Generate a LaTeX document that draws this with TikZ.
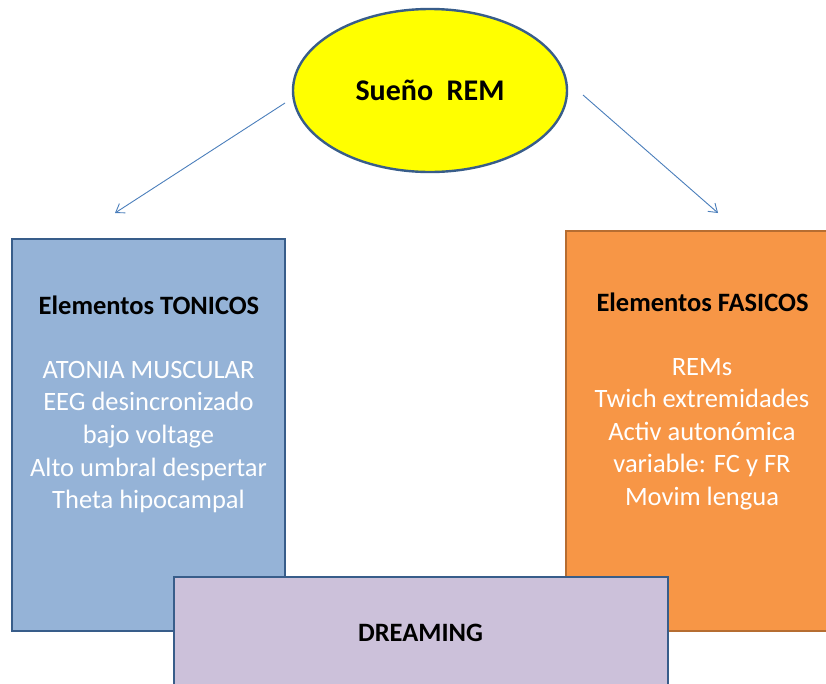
\documentclass[tikz,border=0pt]{standalone}
\usepackage{fontspec}
\setmainfont{Carlito}
\usetikzlibrary{arrows.meta,shapes.geometric}
\definecolor{yel}{HTML}{FFFF00}
\definecolor{bluefill}{HTML}{95B3D7}
\definecolor{blueline}{HTML}{385D8A}
\definecolor{orfill}{HTML}{F79646}
\definecolor{orline}{HTML}{B66D31}
\definecolor{purfill}{HTML}{CCC1DA}
\definecolor{arrowcol}{HTML}{4A7EBB}
\tikzset{
  boxbase/.style={line width=2.4pt},
  titletext/.style={font=\fontsize{26.5}{30}\selectfont\bfseries, text=black, inner sep=0pt},
  bodytext/.style={font=\fontsize{26.5}{32.6}\selectfont, text=white, align=center, inner sep=0pt},
  conn/.style={draw=arrowcol, line width=0.9pt, -{Straight Barb[length=8pt,width=11pt,line width=0.9pt]}}
}
\begin{document}
\begin{tikzpicture}[x=1pt,y=-1pt]
\fill[white] (0,0) rectangle (826,683);
\useasboundingbox (0,0) rectangle (826,683);
\clip (0,0) rectangle (826,683);
% ellipse
\node[ellipse, draw=blueline, fill=yel, line width=2.4pt, minimum width=274pt, minimum height=163pt, inner sep=0pt,
  font=\fontsize{30}{34}\selectfont\bfseries] (rem) at (430,90.5) {Sueño\ \ REM};
% boxes
\draw[boxbase, draw=blueline, fill=bluefill] (12,239) rectangle (285,631);
\draw[boxbase, draw=orline, fill=orfill] (566,231) rectangle (850,631);
\draw[boxbase, draw=blueline, fill=purfill] (174,577) rectangle (668,700);
% texts
\node[titletext] (tont) at (149,305) {Elementos TONICOS};
\node[bodytext] (tonb) at (148.5,437) {ATONIA MUSCULAR\\EEG desincronizado\\bajo voltage\\Alto umbral despertar\\Theta hipocampal};
\node[titletext] (fast) at (702.5,302) {Elementos FASICOS};
\node[bodytext] (fasb) at (702,434) {REMs\\Twich extremidades\\Activ autonómica\\variable: FC y FR\\Movim lengua};
\node[titletext] (drm) at (420.5,633) {DREAMING};
% arrows
\coordinate (l0) at (285,103);
\coordinate (l1) at (115,213);
\coordinate (r0) at (583,95);
\coordinate (r1) at (718,213);
\draw[conn] (l0) -- (l1);
\draw[conn] (r0) -- (r1);
\end{tikzpicture}
\end{document}
